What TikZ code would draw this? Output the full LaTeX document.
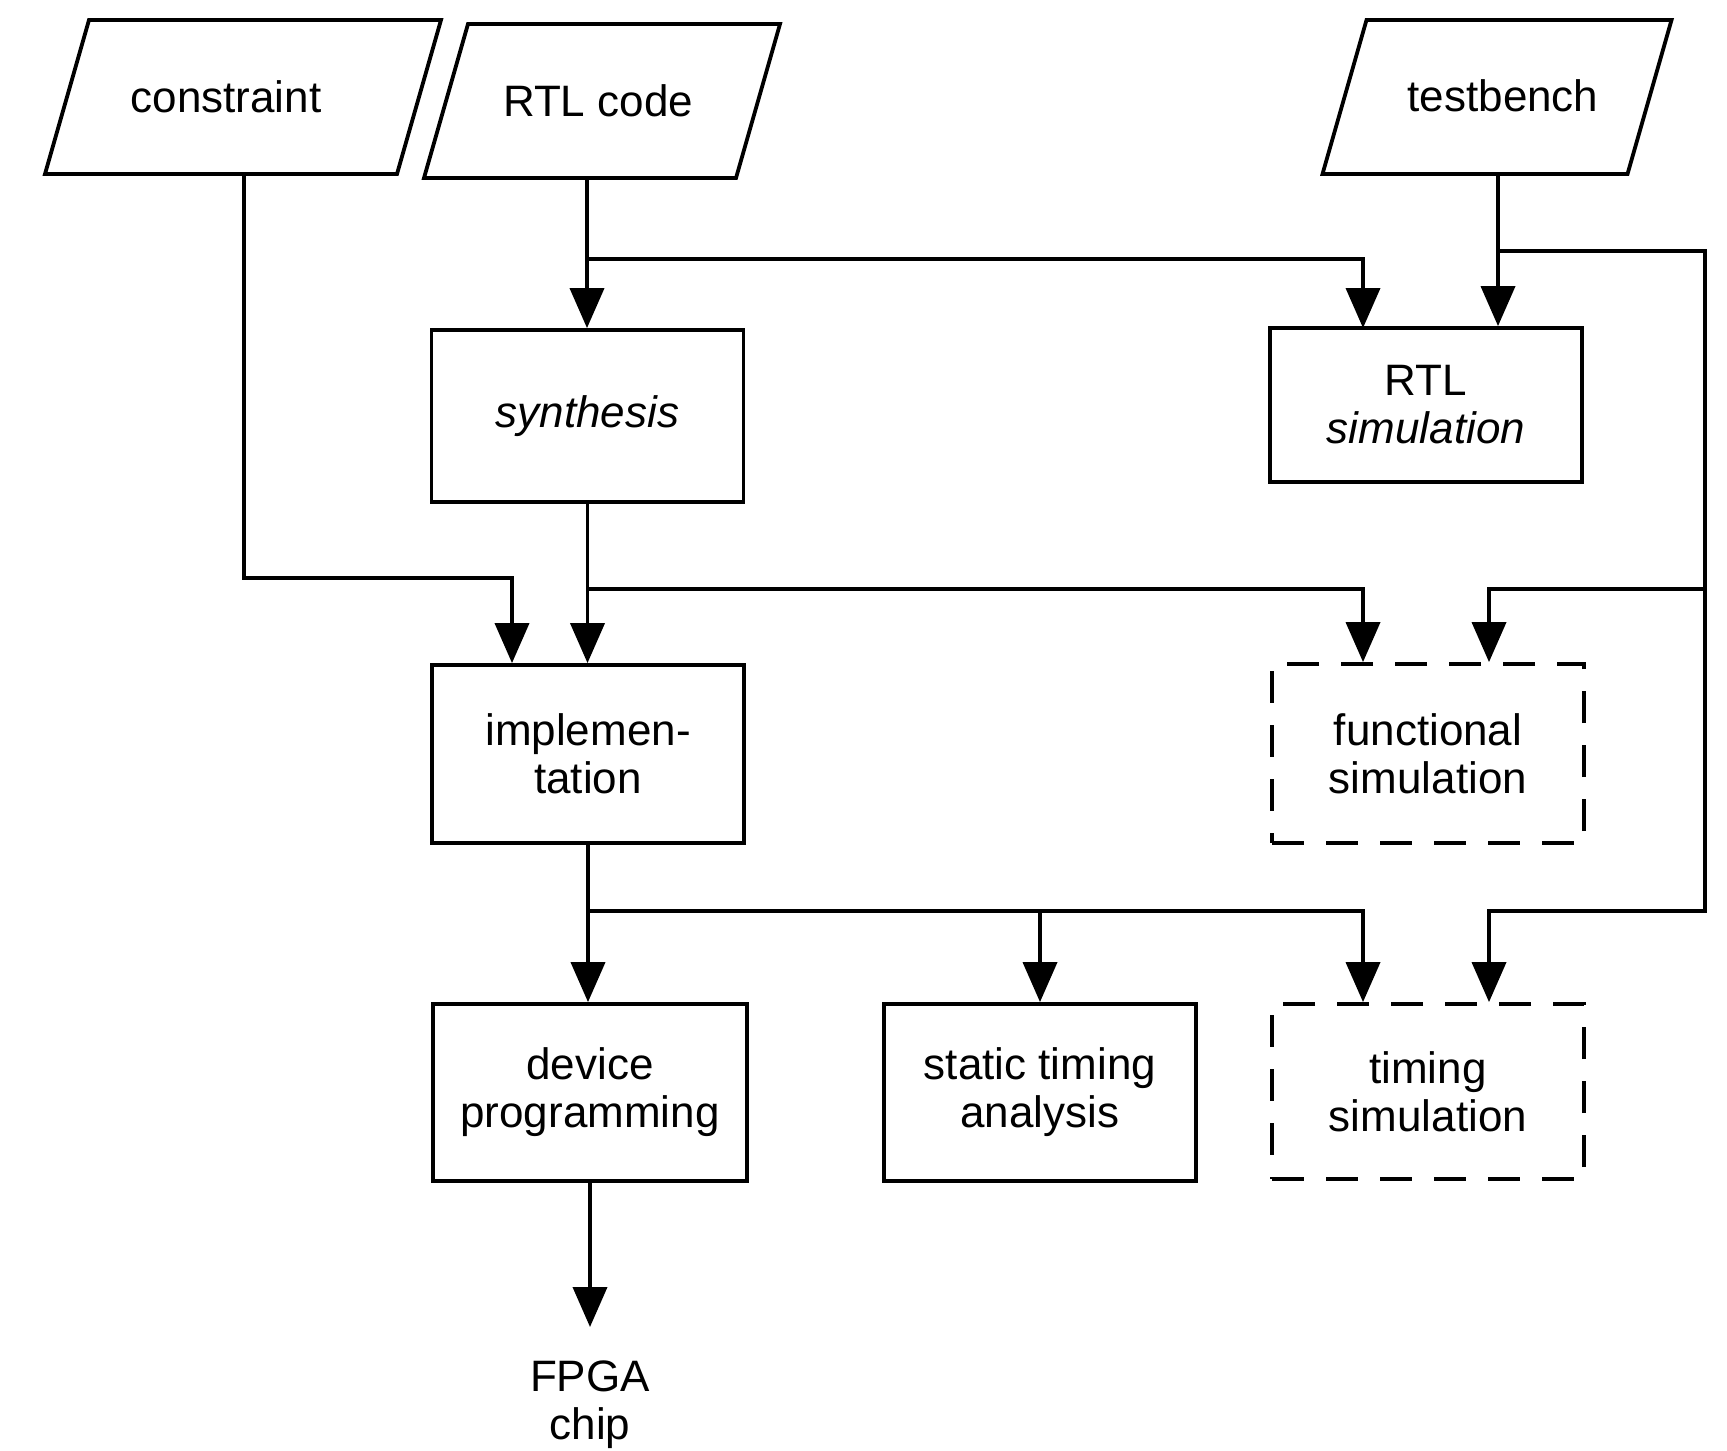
\documentclass[tikz,border=0pt]{standalone}
\usepackage{fontspec}
\setmainfont{Liberation Sans}
\usetikzlibrary{arrows.meta,calc}
\newcommand\fs{\fontsize{22}{24}\selectfont}
\newcommand\myparal[3]{\draw[lw, line join=miter] ({#1-#3/2+22},{#2-77}) -- ({#1+#3/2+22},{#2-77}) -- ({#1+#3/2-22},{#2+77}) -- ({#1-#3/2-22},{#2+77}) -- cycle;}
\begin{document}
\begin{tikzpicture}[x=0.5pt,y=-0.5pt,
  lw/.style={line width=1.9pt},
  box/.style={draw, lw, minimum width=156pt, align=center, font=\fs, inner sep=0pt},
  dbox/.style={box, dash pattern=on 16pt off 11pt},
  arr/.style={lw, -{Triangle[length=20pt,width=17pt]}},
  conn/.style={lw},
  txt/.style={font=\fs, align=center, inner sep=0pt}]
\fill[white] (0,0) rectangle (1727,1450);
\useasboundingbox (0,0) rectangle (1727,1450);

% inputs
\node[txt] (constraint) at (226,97) {constraint};
\myparal{243}{97}{352}
\coordinate (constraint-out) at (244,174);
\node[txt] (rtlcode) at (598,101) {RTL code};
\myparal{602}{101}{312}
\coordinate (rtlcode-out) at (587,178);
\node[txt] (testbench) at (1503,96) {testbench};
\myparal{1497}{97}{305}
\coordinate (testbench-out) at (1498,174);

% boxes
\node[box, minimum height=86pt] (synth) at (587.5,416) {\itshape synthesis};
\node[box, minimum height=77pt] (rtlsim) at (1426,405) {RTL\\\itshape simulation};
\node[box, minimum height=89pt] (impl) at (588,754) {implemen-\\tation};
\node[dbox, minimum height=89.5pt] (funcsim) at (1428,753.5) {functional\\simulation};
\node[box, minimum width=157pt, minimum height=88.5pt] (devprog) at (590,1092.5) {device\\programming};
\node[box, minimum height=88.5pt] (sta) at (1040,1092.5) {static timing\\analysis};
\node[dbox, minimum height=87.5pt] (timsim) at (1428,1091.5) {timing\\simulation};
\node[txt, anchor=north, inner ysep=16.5pt] (fpga) at (590,1327) {FPGA\\chip};

% junctions
\coordinate (j1) at (587,259);
\coordinate (j2) at (1498,251);
\coordinate (j3) at (587,589);
\coordinate (j4) at (589,911);
\coordinate (rr1) at (1705,589);
\coordinate (rr2) at (1705,911);

% connectors
\draw[arr] (constraint-out) |- ($(impl.north)+(-76,-85)$) -- ($(impl.north)+(-76,0)$);
\draw[arr] (rtlcode-out) -- (rtlcode-out |- synth.north);
\draw[arr] (j1) -| (1363,328);
\draw[arr] (testbench-out) -- (testbench-out |- rtlsim.north);
\draw[arr] (j2) -| (rr2) -| ($(timsim.north)+(61,0)$);
\draw[arr] (rr1) -| ($(funcsim.north)+(61,0)$);
\draw[arr] (synth.south) -- (synth.south |- impl.north);
\draw[arr] (j3) -| ($(funcsim.north)+(-65,0)$);
\draw[arr] (impl.south) -- (impl.south |- devprog.north);
\draw[arr] (j4) -| ($(timsim.north)+(-65,0)$);
\draw[arr] (sta.north |- j4) -- (sta.north);
\draw[arr] (devprog.south) -- (fpga.north);
\end{tikzpicture}
\end{document}
